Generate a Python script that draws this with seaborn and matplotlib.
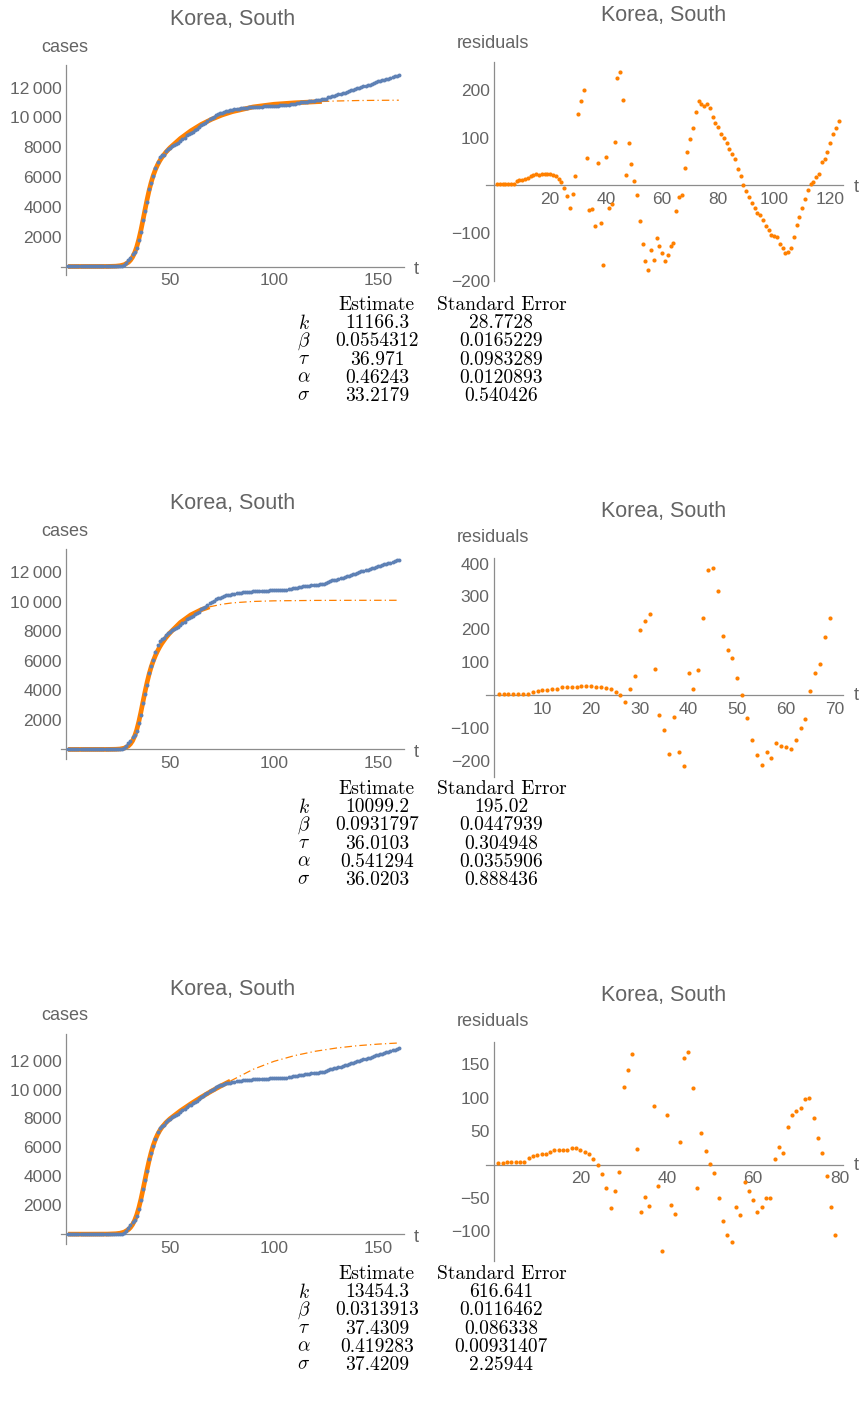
import numpy as np
import pandas as pd
import matplotlib
matplotlib.use("Agg")
import matplotlib.pyplot as plt
import seaborn as sns
from matplotlib.ticker import MultipleLocator, FuncFormatter

W, H = 861, 1407

# cumulative confirmed cases, t = 1..160
cases = [2, 2, 3, 4, 4, 4, 4, 11,
         12, 15, 15, 16, 19, 23, 24, 24, 25, 27, 28, 28, 28, 28, 28, 29, 30, 31, 31,
         104, 204, 433, 602, 833, 977, 1261, 1766, 2337, 3150,
         3736, 4335, 5186, 5621, 6088, 6593, 7041, 7314, 7478, 7513, 7755, 7869, 7979,
         8086, 8162, 8236, 8320, 8413, 8565, 8652, 8799, 8897, 8961, 9037, 9137, 9241,
         9332, 9478, 9583, 9661, 9786,
         9887, 9976, 10062, 10156, 10237, 10284, 10331, 10384, 10423, 10450, 10480,
         10512, 10537, 10564, 10591, 10613, 10635, 10653, 10661, 10674, 10683, 10694,
         10702, 10708, 10718, 10728, 10738, 10752, 10761, 10765,
         10774, 10780, 10793, 10801, 10804, 10806, 10810, 10822, 10840, 10874, 10909,
         10936, 10962, 10991, 11018, 11037, 11050, 11065, 11078, 11110, 11122, 11142,
         11165, 11190, 11206, 11225, 11265, 11344, 11402, 11441, 11468,
         11503, 11541, 11590, 11629, 11668, 11719, 11776, 11814, 11852, 11902, 11947,
         12003, 12051, 12085, 12121, 12155, 12198, 12257, 12306, 12373, 12421, 12438,
         12484, 12535, 12563, 12602, 12653, 12715, 12757, 12800,
         12850]

# residuals of the three fits
resid1 = [3, 3, 3, 3, 3, 3, 3,
          10, 12, 12, 14, 15, 19, 21, 24, 22, 24, 24, 24, 24, 22, 19, 14, 7,
          -5, -22, -48, -17, 19, 151, 178, 201, 57, -51, -49, -85, 48, -78, -166, 59,
          -48, -39, 91, 226, 238, 180, 22, 89, 45, 10, -19, -74, -122, -158,
          -177, -136, -156, -110, -127, -142, -158, -147, -127, -120, -53, -24, -19,
          37, 70, 97, 120, 154, 178, 171, 166, 171, 162, 144, 132, 122, 108, 99, 89,
          77, 67, 55, 34, 20, 0, -12, -24, -36, -48, -57, -62, -72, -86, -94, -103,
          -106, -108, -122, -132, -142, -139, -132, -108, -84, -67, -48, -29, -10, 3,
          7, 17, 24, 50, 55, 70, 89, 108, 120, 135]
resid2 = [4, 4, 4, 4, 4, 4, 4,
          10, 12, 14, 14, 17, 17, 25, 25, 25, 25, 28, 28, 28, 25, 25, 20, 17, 10, 0,
          -20, 17, 59, 198, 226, 248, 80, -60, -106, -179, -67, -175, -217, 66, 17,
          76, 233, 380, 387, 318, 181, 136, 112, 52, 0, -70, -136, -182, -213, -175,
          -192, -146, -157, -160, -164, -136, -102, -74, 13, 66, 94, 175, 233]
resid3 = [2, 2, 3.5, 3.5, 3.5, 3.5, 3.5,
          10.5, 13, 15, 16, 16, 19, 22.5, 22.5, 22.5, 22.5, 24.5, 24.5, 22.5, 18.5,
          15.5, 8.5, 0,
          -14, -34.5, -65.5, -40, -10.5, 116.5, 141, 165, 24, -70.5, -48.5, -62, 87.5,
          -31.5, -129, 74, -60.5, -74, 34, 159.5, 168, 115, -34.5, 48, 20.5, 1.5,
          -12.5, -50, -84.5, -105, -115.5, -64, -76, -26, -40, -53.5, -70.5, -64, -50,
          -50, 8.5, 26, 17, 56.5, 73.5, 80.5, 84, 98, 99.5, 69, 39.5, 17, -17.5, -64,
          -105]

# fitted curves (fit range) and their extrapolation
fit1_t = [1, 10, 20, 24, 26, 28, 30, 31, 32, 33, 34, 35, 36, 37, 38, 39, 40, 41, 42,
          43, 44, 45, 46, 48, 50, 55, 60, 65, 70, 75, 80, 90, 100, 110, 120, 123]
fit1 = [0, 3, 4, 22, 53, 121, 282, 424, 632, 920, 1312, 1815, 2422, 3102, 3814, 4501,
        5127, 5669, 6127, 6502, 6815, 7076, 7298, 7666, 7969, 8590, 9103, 9531, 9879,
        10165, 10390, 10706, 10886, 10984, 11053, 11071]
ext1_t = [123, 130, 140, 150, 160]
ext1 = [11071, 11105, 11135, 11150, 11158]

fit2_t = [1, 10, 20, 24, 26, 28, 30, 31, 32, 33, 34, 35, 36, 37, 38, 39, 40, 41, 42,
          43, 44, 45, 46, 48, 50, 55, 60, 65, 69]
fit2 = [0, 1, 2, 12, 31, 87, 235, 376, 585, 897, 1321, 1872, 2516, 3217, 3911, 4552,
        5120, 5604, 6012, 6360, 6661, 6927, 7160, 7560, 7900, 8600, 9110, 9460, 9654]
ext2_t = [69, 75, 80, 90, 100, 120, 140, 160]
ext2 = [9654, 9830, 9925, 10020, 10062, 10090, 10097, 10099]

fit3_t = [1, 10, 20, 24, 26, 28, 30, 31, 32, 33, 34, 35, 36, 37, 38, 39, 40, 41, 42,
          43, 44, 45, 46, 48, 50, 55, 60, 65, 70, 75, 79]
fit3 = [0, 0, 5, 29, 65, 144, 317, 461, 668, 953, 1331, 1814, 2399, 3063, 3767, 4464,
        5112, 5681, 6162, 6559, 6881, 7146, 7363, 7707, 7977, 8528, 9014, 9470, 9896,
        10290, 10585]
ext3_t = [79, 90, 100, 110, 120, 130, 140, 150, 160]
ext3 = [10585, 11400, 11950, 12350, 12650, 12870, 13030, 13140, 13220]

# parameter tables
param_names = [r"$k$", r"$\beta$", r"$\tau$", r"$\alpha$", r"$\sigma$"]
est1 = ["11166.3", "0.0554312", "36.971", "0.46243", "33.2179"]
se1 = ["28.7728", "0.0165229", "0.0983289", "0.0120893", "0.540426"]
est2 = ["10099.2", "0.0931797", "36.0103", "0.541294", "36.0203"]
se2 = ["195.02", "0.0447939", "0.304948", "0.0355906", "0.888436"]
est3 = ["13454.3", "0.0313913", "37.4309", "0.419283", "37.4209"]
se3 = ["616.641", "0.0116462", "0.086338", "0.00931407", "2.25944"]

BLUE = "#5E81B5"
ORANGE = "#FF8000"
AXIS = "#8c8c8c"
TXT = "#646464"

sns.set_style("white")
plt.rcParams['font.family'] = ['Liberation Sans', 'DejaVu Sans']
plt.rcParams['mathtext.fontset'] = 'cm'

fig = plt.figure(figsize=(W / 100, H / 100), dpi=100)


def px_axes(left, top, right, bottom):
    return fig.add_axes([left / W, 1 - bottom / H, (right - left) / W, (bottom - top) / H])


def ftext(x, y, s, **kw):
    kw.setdefault("ha", "center")
    kw.setdefault("va", "center")
    fig.text(x / W, 1 - y / H, s, **kw)


def fmt_cases(v, pos):
    if v <= 0:
        return ""
    s = f"{int(round(v))}"
    if v >= 10000:
        s = s[:-3] + "\u2009" + s[-3:]
    return s


def fmt_resid(v, pos):
    if abs(v) < 1e-9:
        return ""
    if v < 0:
        return "\u2212" + f"{int(round(-v))}"
    return f"{int(round(v))}"


def fmt_t(v, pos):
    if v <= 0:
        return ""
    return f"{int(round(v))}"


def style_axes(ax, xlim, ylim, xmaj, xmin, ymaj, ymin, yfmt):
    ax.set_xlim(*xlim)
    ax.set_ylim(*ylim)
    for side in ["top", "right"]:
        ax.spines[side].set_visible(False)
    ax.spines["left"].set_position(("data", 0))
    ax.spines["bottom"].set_position(("data", 0))
    for side in ["left", "bottom"]:
        ax.spines[side].set_color(AXIS)
        ax.spines[side].set_linewidth(0.9)
    ax.xaxis.set_major_locator(MultipleLocator(xmaj))
    ax.xaxis.set_minor_locator(MultipleLocator(xmin))
    ax.yaxis.set_major_locator(MultipleLocator(ymaj))
    ax.yaxis.set_minor_locator(MultipleLocator(ymin))
    ax.xaxis.set_major_formatter(FuncFormatter(fmt_t))
    ax.yaxis.set_major_formatter(FuncFormatter(yfmt))
    ax.tick_params(which="both", direction="in", color=AXIS, width=0.8,
                   labelcolor=TXT, labelsize=12.5)
    ax.tick_params(which="major", length=4)
    ax.tick_params(which="minor", length=2.5)
    ax.tick_params(axis="x", pad=5)
    ax.tick_params(axis="y", pad=3)
    ax.set_xlabel("")
    ax.set_ylabel("")
    ax.patch.set_alpha(0)


rows = [
    dict(dy=0, fit_t=fit1_t, fit=fit1, ext_t=ext1_t, ext=ext1, resid=resid1,
         ylim=(-570, 13520), r_top=61.7, r_bot=280.7, r_xlim=(-2.9, 124.6),
         r_ylim=(-200, 260), r_xmaj=20, r_xmin=5, r_ymaj=100, r_ymin=20,
         r_title=15, r_lab=43, r_t=187, est=est1, se=se1),
    dict(dy=484, fit_t=fit2_t, fit=fit2, ext_t=ext2_t, ext=ext2, resid=resid2,
         ylim=(-647, 13571), r_top=557.7, r_bot=776.7, r_xlim=(-1.6, 71.7),
         r_ylim=(-249, 418), r_xmaj=10, r_xmin=2, r_ymaj=100, r_ymin=20,
         r_title=512, r_lab=538, r_t=695, est=est2, se=se2),
    dict(dy=969, fit_t=fit3_t, fit=fit3, ext_t=ext3_t, ext=ext3, resid=resid3,
         ylim=(-681, 13840), r_top=1041.7, r_bot=1260.7, r_xlim=(-1.85, 80.8),
         r_ylim=(-144, 184), r_xmaj=20, r_xmin=5, r_ymaj=50, r_ymin=10,
         r_title=996, r_lab=1022, r_t=1165, est=est3, se=se3),
]

df_cases = pd.DataFrame({"t": range(1, len(cases) + 1), "cases": cases})

for r in rows:
    dy = r["dy"]

    # cases with fitted curve
    ax = px_axes(61, 65 + dy, 404, 275 + dy)
    df_fit = pd.DataFrame({"t": r["fit_t"], "y": r["fit"]})
    df_ext = pd.DataFrame({"t": r["ext_t"], "y": r["ext"]})
    sns.lineplot(data=df_ext, x="t", y="y", ax=ax, color=ORANGE, lw=0.9,
                 linestyle=(0, (6, 2.5, 1, 2.5)), sort=False, estimator=None, zorder=2)
    sns.lineplot(data=df_fit, x="t", y="y", ax=ax, color=ORANGE, lw=3.4,
                 sort=False, estimator=None, zorder=2, solid_capstyle="butt")
    sns.scatterplot(data=df_cases, x="t", y="cases", ax=ax, color=BLUE, s=8,
                    linewidth=0, zorder=3)
    style_axes(ax, (-2.4, 162.5), r["ylim"], 50, 10, 2000, 500, fmt_cases)

    ftext(233, 20 + dy, "Korea, South", fontsize=15.5, color=TXT)
    ftext(65, 47 + dy, "cases", fontsize=13, color=TXT)
    y0 = 65 + dy + (275 - 65) * r["ylim"][1] / (r["ylim"][1] - r["ylim"][0])
    ftext(416, y0 + 3, "t", fontsize=13, color=TXT)

    # residuals
    axr = px_axes(486, r["r_top"], 843, r["r_bot"])
    df_res = pd.DataFrame({"t": range(1, len(r["resid"]) + 1), "res": r["resid"]})
    sns.scatterplot(data=df_res, x="t", y="res", ax=axr, color=ORANGE, s=9,
                    linewidth=0, zorder=3)
    style_axes(axr, r["r_xlim"], r["r_ylim"], r["r_xmaj"], r["r_xmin"],
               r["r_ymaj"], r["r_ymin"], fmt_resid)
    ftext(664, r["r_title"], "Korea, South", fontsize=15.5, color=TXT)
    ftext(493, r["r_lab"], "residuals", fontsize=13, color=TXT)
    ftext(856, r["r_t"], "t", fontsize=13, color=TXT)

    # parameter table
    ty = 305 + dy
    tab = dict(fontsize=14, color="black", family="cmr10")
    ftext(376, ty, "Estimate", **tab)
    ftext(502, ty, "Standard Error", **tab)
    for i, name in enumerate(param_names):
        yy = ty + 18.2 * (i + 1)
        ftext(304, yy, name, fontsize=14, color="black")
        ftext(377, yy, r["est"][i], **tab)
        ftext(501, yy, r["se"][i], **tab)

fig.savefig("out.png", dpi=100)
